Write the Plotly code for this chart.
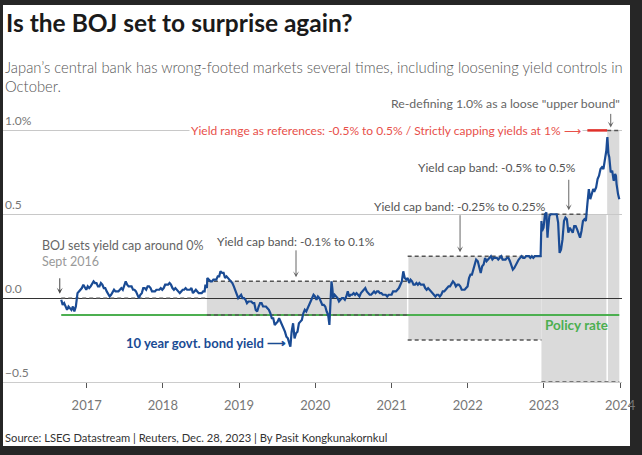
import plotly.graph_objects as go

# ---------------- data ----------------
dates = [
 "2016-09-01","2016-09-08","2016-09-15","2016-09-22","2016-09-29","2016-10-06","2016-10-13","2016-10-20","2016-10-27",
 "2016-11-03","2016-11-10","2016-11-14","2016-11-18","2016-11-25","2016-12-02","2016-12-09","2016-12-16","2016-12-23","2016-12-30",
 "2017-01-06","2017-01-13","2017-01-20","2017-01-27","2017-02-03","2017-02-10","2017-02-17","2017-02-24","2017-03-03","2017-03-10",
 "2017-03-17","2017-03-24","2017-03-31","2017-04-07","2017-04-14","2017-04-21","2017-04-28","2017-05-05","2017-05-12","2017-05-19",
 "2017-05-26","2017-06-02","2017-06-09","2017-06-16","2017-06-23","2017-06-30","2017-07-07","2017-07-14","2017-07-21","2017-07-28",
 "2017-08-04","2017-08-11","2017-08-18","2017-08-25","2017-09-01","2017-09-08","2017-09-15","2017-09-22","2017-09-29","2017-10-06",
 "2017-10-13","2017-10-20","2017-10-27","2017-11-03","2017-11-10","2017-11-17","2017-11-24","2017-12-01","2017-12-08","2017-12-15",
 "2017-12-22","2017-12-29",
 "2018-01-05","2018-01-12","2018-01-19","2018-01-26","2018-02-02","2018-02-09","2018-02-16","2018-02-23","2018-03-02","2018-03-09",
 "2018-03-16","2018-03-23","2018-03-30","2018-04-06","2018-04-13","2018-04-20","2018-04-27","2018-05-04","2018-05-11","2018-05-18",
 "2018-05-25","2018-06-01","2018-06-08","2018-06-15","2018-06-22","2018-06-29","2018-07-06","2018-07-13","2018-07-20","2018-07-24",
 "2018-07-31","2018-08-02","2018-08-10","2018-08-17","2018-08-24","2018-08-31","2018-09-07","2018-09-14","2018-09-21","2018-09-28",
 "2018-10-04","2018-10-12","2018-10-19","2018-10-26","2018-11-02","2018-11-09","2018-11-16","2018-11-23","2018-11-30","2018-12-07",
 "2018-12-14","2018-12-21","2018-12-28",
 "2019-01-04","2019-01-11","2019-01-18","2019-01-25","2019-02-01","2019-02-08","2019-02-15","2019-02-22","2019-03-01","2019-03-08",
 "2019-03-15","2019-03-22","2019-03-29","2019-04-05","2019-04-12","2019-04-19","2019-04-26","2019-05-03","2019-05-10","2019-05-17",
 "2019-05-24","2019-05-31","2019-06-07","2019-06-14","2019-06-21","2019-06-28","2019-07-05","2019-07-12","2019-07-19","2019-07-26",
 "2019-08-02","2019-08-09","2019-08-16","2019-08-23","2019-08-30","2019-09-04","2019-09-10","2019-09-17","2019-09-24","2019-10-01",
 "2019-10-08","2019-10-15","2019-10-22","2019-10-29","2019-11-05","2019-11-12","2019-11-19","2019-11-26","2019-12-03","2019-12-10",
 "2019-12-17","2019-12-24","2019-12-31",
 "2020-01-07","2020-01-14","2020-01-21","2020-01-28","2020-02-04","2020-02-11","2020-02-18","2020-02-25","2020-03-03","2020-03-09",
 "2020-03-12","2020-03-17","2020-03-19","2020-03-23","2020-03-27","2020-04-03","2020-04-10","2020-04-17","2020-04-24","2020-05-01",
 "2020-05-08","2020-05-15","2020-05-22","2020-05-29","2020-06-05","2020-06-12","2020-06-19","2020-06-26","2020-07-03","2020-07-10",
 "2020-07-17","2020-07-24","2020-07-31","2020-08-07","2020-08-14","2020-08-21","2020-08-28","2020-09-04","2020-09-11","2020-09-18",
 "2020-09-25","2020-10-02","2020-10-09","2020-10-16","2020-10-23","2020-10-30","2020-11-06","2020-11-13","2020-11-20","2020-11-27",
 "2020-12-04","2020-12-11","2020-12-18","2020-12-25",
 "2021-01-01","2021-01-08","2021-01-15","2021-01-22","2021-01-29","2021-02-05","2021-02-12","2021-02-19","2021-02-26","2021-03-05",
 "2021-03-12","2021-03-19","2021-03-26","2021-04-02","2021-04-09","2021-04-16","2021-04-23","2021-04-30","2021-05-07","2021-05-14",
 "2021-05-21","2021-05-28","2021-06-04","2021-06-11","2021-06-18","2021-06-25","2021-07-02","2021-07-09","2021-07-16","2021-07-23",
 "2021-07-30","2021-08-06","2021-08-13","2021-08-20","2021-08-27","2021-09-03","2021-09-10","2021-09-17","2021-09-24","2021-10-01",
 "2021-10-08","2021-10-15","2021-10-22","2021-10-29","2021-11-05","2021-11-12","2021-11-19","2021-11-26","2021-12-03","2021-12-10",
 "2021-12-17","2021-12-24","2021-12-31",
 "2022-01-07","2022-01-14","2022-01-21","2022-01-28","2022-02-04","2022-02-10","2022-02-18","2022-02-25","2022-03-04","2022-03-11",
 "2022-03-18","2022-03-25","2022-04-01","2022-04-08","2022-04-15","2022-04-22","2022-04-29","2022-05-06","2022-05-13","2022-05-20",
 "2022-05-27","2022-06-03","2022-06-10","2022-06-17","2022-06-24","2022-07-01","2022-07-08","2022-07-15","2022-07-22","2022-07-29",
 "2022-08-05","2022-08-12","2022-08-19","2022-08-26","2022-09-02","2022-09-09","2022-09-16","2022-09-23","2022-09-30","2022-10-07",
 "2022-10-14","2022-10-21","2022-10-28","2022-11-04","2022-11-11","2022-11-18","2022-11-25","2022-12-02","2022-12-09","2022-12-16",
 "2022-12-20","2022-12-23","2022-12-30",
 "2023-01-06","2023-01-13","2023-01-18","2023-01-20","2023-01-27","2023-02-03","2023-02-10","2023-02-17","2023-02-24","2023-03-03",
 "2023-03-10","2023-03-14","2023-03-17","2023-03-24","2023-03-31","2023-04-07","2023-04-14","2023-04-21","2023-04-28","2023-05-05",
 "2023-05-12","2023-05-19","2023-05-26","2023-06-02","2023-06-09","2023-06-16","2023-06-23","2023-06-30","2023-07-07","2023-07-14",
 "2023-07-21","2023-07-28","2023-08-04","2023-08-11","2023-08-18","2023-08-25","2023-09-01","2023-09-08","2023-09-15","2023-09-22",
 "2023-09-29","2023-10-06","2023-10-13","2023-10-20","2023-10-27","2023-10-31","2023-11-01","2023-11-06","2023-11-10","2023-11-17",
 "2023-11-24","2023-12-01","2023-12-05","2023-12-08","2023-12-12","2023-12-15","2023-12-19","2023-12-22","2023-12-26","2023-12-28",
]
yields = [
 -0.01,-0.04,-0.03,-0.05,-0.07,-0.05,-0.06,-0.07,-0.05,
 -0.08,-0.05,0.00,0.03,0.04,0.05,0.06,0.08,0.06,0.05,
 0.07,0.06,0.07,0.09,0.10,0.09,0.09,0.07,0.07,0.09,
 0.08,0.06,0.06,0.04,0.02,0.01,0.02,0.04,0.05,0.04,
 0.04,0.04,0.05,0.06,0.05,0.08,0.10,0.08,0.07,0.07,
 0.07,0.05,0.05,0.04,0.02,0.00,0.02,0.03,0.06,0.06,
 0.05,0.07,0.07,0.06,0.04,0.04,0.04,0.05,0.05,0.05,
 0.06,0.05,
 0.06,0.08,0.08,0.08,0.09,0.08,0.06,0.05,0.06,0.05,
 0.04,0.03,0.04,0.05,0.05,0.06,0.05,0.05,0.05,0.06,
 0.03,0.04,0.05,0.04,0.03,0.03,0.03,0.04,0.04,0.08,
 0.06,0.12,0.11,0.10,0.10,0.11,0.11,0.11,0.13,0.13,
 0.16,0.15,0.15,0.12,0.13,0.12,0.11,0.10,0.09,0.07,
 0.05,0.03,0.00,
 0.01,0.02,0.00,0.00,-0.01,-0.03,-0.02,-0.02,-0.02,-0.03,
 -0.03,-0.07,-0.08,-0.05,-0.03,-0.03,-0.05,-0.05,-0.05,-0.06,
 -0.07,-0.09,-0.12,-0.12,-0.16,-0.15,-0.14,-0.12,-0.14,-0.15,
 -0.17,-0.20,-0.23,-0.24,-0.27,-0.29,-0.20,-0.15,-0.24,-0.21,
 -0.20,-0.15,-0.14,-0.13,-0.09,-0.07,-0.08,-0.06,-0.04,-0.03,
 0.00,0.02,0.01,
 -0.01,0.01,0.00,-0.02,-0.04,-0.04,-0.05,-0.08,-0.10,-0.16,
 -0.09,0.06,0.10,0.06,0.00,0.02,0.01,0.00,-0.02,-0.01,
 0.00,0.00,-0.01,0.01,0.04,0.01,0.02,0.02,0.03,0.02,
 0.03,0.02,0.01,0.03,0.04,0.05,0.06,0.04,0.03,0.02,
 0.02,0.03,0.04,0.03,0.04,0.04,0.03,0.03,0.02,0.02,
 0.02,0.01,0.02,0.02,
 0.02,0.04,0.04,0.04,0.05,0.06,0.08,0.10,0.16,0.12,
 0.11,0.12,0.09,0.11,0.10,0.08,0.08,0.09,0.08,0.09,
 0.08,0.08,0.08,0.06,0.05,0.06,0.05,0.04,0.03,0.02,
 0.01,0.02,0.02,0.01,0.02,0.04,0.04,0.05,0.06,0.07,
 0.07,0.09,0.10,0.09,0.07,0.08,0.08,0.07,0.05,0.05,
 0.05,0.06,0.07,
 0.12,0.14,0.14,0.17,0.19,0.23,0.22,0.19,0.15,0.19,
 0.20,0.24,0.22,0.23,0.24,0.25,0.23,0.24,0.24,0.24,
 0.23,0.24,0.25,0.23,0.23,0.23,0.24,0.24,0.22,0.19,
 0.17,0.18,0.20,0.22,0.23,0.24,0.25,0.24,0.24,0.25,
 0.25,0.25,0.24,0.25,0.24,0.25,0.25,0.25,0.25,0.25,
 0.46,0.40,0.42,
 0.50,0.51,0.36,0.40,0.49,0.50,0.50,0.50,0.50,0.50,
 0.45,0.31,0.27,0.29,0.35,0.46,0.48,0.47,0.39,0.42,
 0.40,0.39,0.43,0.43,0.41,0.38,0.36,0.40,0.46,0.47,
 0.46,0.56,0.65,0.59,0.62,0.65,0.64,0.66,0.71,0.73,
 0.77,0.78,0.77,0.83,0.88,0.95,0.96,0.86,0.84,0.75,
 0.76,0.70,0.71,0.74,0.73,0.68,0.62,0.62,0.60,0.59,
]

# Yield-curve-control bands (shaded)
band_starts = ["2018-07-31", "2021-03-19", "2022-12-20", "2023-10-31"]
band_ends   = ["2021-03-19", "2022-12-20", "2023-10-31", "2023-12-28"]
band_lows   = [-0.1, -0.25, -0.5, -0.5]
band_highs  = [0.1, 0.25, 0.5, 1.0]

# Dashed cap lines
cap_starts = ["2016-09-01", "2018-07-31", "2018-07-31", "2021-03-19", "2021-03-19", "2022-12-20", "2022-12-20", "2023-10-31"]
cap_ends   = ["2018-07-31", "2021-03-19", "2021-03-19", "2022-12-20", "2022-12-20", "2023-07-28", "2023-12-28", "2023-12-28"]
cap_levels = [0.0, 0.1, -0.1, 0.25, -0.25, 0.5, -0.5, 1.0]

# Strict 1% cap period
strict_cap_dates = ["2023-07-28", "2023-10-31"]
strict_cap_level = [1.0, 1.0]

# Policy rate
policy_dates = ["2016-09-01", "2023-12-28"]
policy_rate = [-0.1, -0.1]

year_ticks = ["2017-01-01", "2018-01-01", "2019-01-01", "2020-01-01",
              "2021-01-01", "2022-01-01", "2023-01-01", "2024-01-01"]
year_labels = ["2017", "2018", "2019", "2020", "2021", "2022", "2023", "2024"]
y_ticks = [-0.5, 0.0, 0.5, 1.0]
y_labels = ["\u22120.5", "0.0", "0.5", "1.0%"]

# ---------------- figure ----------------
FONT = "Lato, 'Source Sans Pro', sans-serif"
W, H = 642, 455
L, R, T, B = 3, 20, 122, 73
pw, ph = W - L - R, H - T - B

def px(x):  # pixel -> paper x
    return (x - L) / pw

def py(y):  # pixel -> paper y
    return (H - B - y) / ph

fig = go.Figure()

shapes = []
# white card
shapes.append(dict(type="rect", xref="paper", yref="paper", x0=px(3), x1=px(630), y0=py(446), y1=py(5),
                   fillcolor="white", line=dict(width=0), layer="below"))
for s, e, lo, hi in zip(band_starts, band_ends, band_lows, band_highs):
    shapes.append(dict(type="rect", xref="x", yref="y", x0=s, x1=e, y0=lo, y1=hi,
                       fillcolor="#dadada", line=dict(width=0), layer="below"))
# white separators at band boundaries
for s, lo, hi in [(band_starts[1], band_lows[1], band_highs[1]), (band_starts[3], band_lows[3], band_highs[2])]:
    shapes.append(dict(type="line", xref="x", yref="y", x0=s, x1=s, y0=lo, y1=hi,
                       line=dict(color="white", width=1.5), layer="below"))
fig.update_layout(shapes=shapes)

# policy rate
fig.add_trace(go.Scatter(x=policy_dates, y=policy_rate, mode="lines",
                         line=dict(color="#4caf50", width=2), hoverinfo="skip"))
# dashed caps
for s, e, lv in zip(cap_starts, cap_ends, cap_levels):
    fig.add_trace(go.Scatter(x=[s, e], y=[lv, lv], mode="lines",
                             line=dict(color="#555555", width=1.5, dash="4px,3px"), hoverinfo="skip"))
# strict cap (red)
fig.add_trace(go.Scatter(x=strict_cap_dates, y=strict_cap_level, mode="lines",
                         line=dict(color="#e0302a", width=2.5), hoverinfo="skip"))
# yield line
fig.add_trace(go.Scatter(x=dates, y=yields, mode="lines",
                         line=dict(color="#1a4b94", width=2.2), hoverinfo="skip"))

ann = []
# y tick labels
for v, t in zip(y_ticks, y_labels):
    ann.append(dict(x=0, xref="paper", y=v, yref="y", text=t, showarrow=False,
                    xanchor="left", yanchor="bottom", yshift=0,
                    font=dict(size=12, color="#777777", family=FONT)))
# title / subtitle / source
ann.append(dict(x=px(4), y=py(22), xref="paper", yref="paper", text="<b>Is the BOJ set to surprise again?</b>",
                showarrow=False, xanchor="left", yanchor="middle",
                font=dict(size=24.5, color="#1a1a1a", family=FONT)))
ann.append(dict(x=px(3), y=py(56), xref="paper", yref="paper",
                text="Japan\u2019s central bank has wrong-footed markets several times, including loosening yield controls in<br>October.",
                showarrow=False, xanchor="left", yanchor="top", align="left",
                font=dict(size=14.8, color="#555555", family=FONT, weight=300)))
ann.append(dict(x=px(3), y=py(437), xref="paper", yref="paper",
                text="Source: LSEG Datastream | Reuters, Dec. 28, 2023 | By Pasit Kongkunakornkul",
                showarrow=False, xanchor="left", yanchor="middle",
                font=dict(size=11.2, color="#333333", family=FONT)))

gray = "#666666"
# Re-defining
ann.append(dict(x="2024-01-10", y=py(103), xref="x", yref="paper",
                text="Re-defining 1.0% as a loose \"upper bound\"", showarrow=False,
                xanchor="right", yanchor="middle", font=dict(size=12.3, color=gray, family=FONT)))
ann.append(dict(x="2023-11-17", y=1.0, xref="x", yref="y", text="", showarrow=True,
                ax=0, ay=-18, arrowhead=3, arrowsize=1, arrowwidth=1, arrowcolor=gray, standoff=3))
# red note
ann.append(dict(x="2023-07-05", y=1.0, xref="x", yref="y",
                text="Yield range as references: -0.5% to 0.5% / Strictly capping yields at 1% \u27f6",
                showarrow=False, xanchor="right", yanchor="middle", bgcolor="white",
                font=dict(size=12, color="#e8504a", family=FONT)))
# band labels
ann.append(dict(x="2019-10-01", y=0.1, xref="x", yref="y", text="Yield cap band: -0.1% to 0.1%",
                showarrow=True, ax=0, ay=-40, arrowhead=3, arrowsize=1, arrowwidth=1, arrowcolor=gray, standoff=4,
                font=dict(size=12, color="#555555", family=FONT)))
ann.append(dict(x="2021-11-25", y=0.25, xref="x", yref="y", text="Yield cap band: -0.25% to 0.25%",
                showarrow=True, ax=0, ay=-50, arrowhead=3, arrowsize=1, arrowwidth=1, arrowcolor=gray, standoff=4,
                font=dict(size=12, color="#555555", family=FONT)))
ann.append(dict(x="2023-04-30", y=0.5, xref="x", yref="y", text="", showarrow=True,
                ax=0, ay=-36, arrowhead=3, arrowsize=1, arrowwidth=1, arrowcolor=gray, standoff=4))
ann.append(dict(x=px(578), y=py(167), xref="paper", yref="paper", text="Yield cap band: -0.5% to 0.5%",
                showarrow=False, xanchor="right", yanchor="middle",
                font=dict(size=12, color="#555555", family=FONT)))
# BOJ sets
ann.append(dict(x=px(40), y=py(253), xref="paper", yref="paper",
                text="BOJ sets yield cap around 0%<br><span style='color:#999999'>Sept 2016</span>",
                showarrow=False, xanchor="left", yanchor="middle", align="left",
                font=dict(size=12.5, color="#666666", family=FONT)))
ann.append(dict(x="2016-08-25", y=0.02, xref="x", yref="y", text="", showarrow=True,
                ax=0, ay=-18, arrowhead=3, arrowsize=1, arrowwidth=1, arrowcolor="#444444", standoff=1))
# series labels
ann.append(dict(x="2019-08-25", y=-0.27, xref="x", yref="y", text="<b>10 year govt. bond yield \u27f6</b>",
                showarrow=False, xanchor="right", yanchor="middle",
                font=dict(size=13, color="#1a4b94", family=FONT)))
ann.append(dict(x=px(610), y=py(325), xref="paper", yref="paper", text="<b>Policy rate</b>",
                showarrow=False, xanchor="right", yanchor="middle",
                font=dict(size=13.5, color="#4caf50", family=FONT)))

fig.update_layout(annotations=ann)

fig.update_layout(
    width=W, height=H,
    margin=dict(l=L, r=R, t=T, b=B, pad=0),
    paper_bgcolor="#262626",
    plot_bgcolor="rgba(0,0,0,0)",
    showlegend=False,
    hovermode=False,
    font=dict(family=FONT),
    xaxis=dict(type="date", range=["2015-11-27", "2024-01-10"], showgrid=False, zeroline=False,
               tickmode="array", tickvals=year_ticks, ticktext=year_labels,
               ticks="outside", ticklen=5, tickcolor="#555555", tickwidth=1,
               showline=True, linecolor="#cccccc", linewidth=1,
               tickfont=dict(size=13, color="#777777", family=FONT), ticklabelstandoff=6),
    yaxis=dict(range=[-0.5, 1.05], tickmode="array", tickvals=y_ticks, showticklabels=False,
               showgrid=True, gridcolor="#c8c8c8", gridwidth=1,
               zeroline=True, zerolinecolor="#333333", zerolinewidth=1),
)

fig.write_html("out.html", config={"displayModeBar": False},
               post_script="document.body.style.margin='0';document.body.style.background='#262626';document.body.style.overflow='hidden';")
